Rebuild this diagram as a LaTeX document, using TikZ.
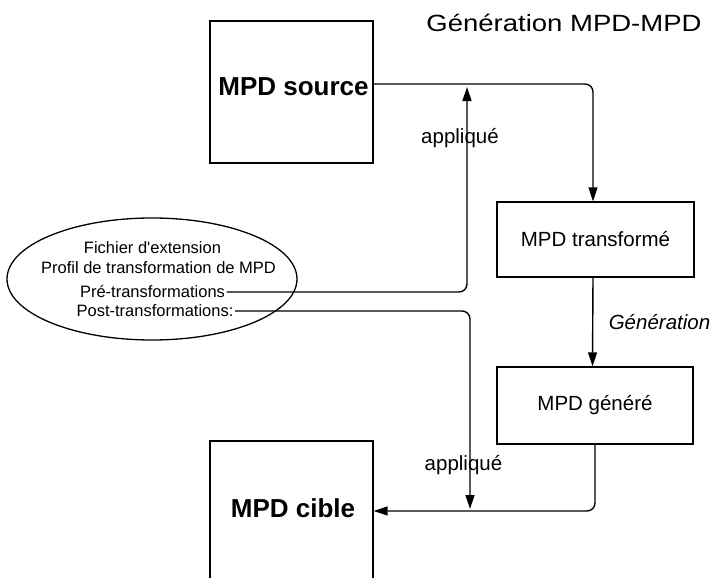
\documentclass[tikz,border=0pt]{standalone}
\usepackage{fontspec}
\setmainfont{Liberation Sans}[Ligatures=TeXOff]
\usepackage{graphicx}
\usetikzlibrary{arrows.meta,shapes.geometric}
\tikzset{
  boxnode/.style={draw, line width=1.3pt, inner sep=0pt, minimum width=#1},
  conn/.style={line width=1.4pt, rounded corners=8pt},
  arr/.style={-{Triangle[length=14pt,width=9pt]}},
  midfont/.style={font=\fontsize{20.5}{24}\selectfont},
  bigbold/.style={font=\fontsize{26}{30}\selectfont\bfseries},
  smallfont/.style={font=\fontsize{16.5}{19}\selectfont, inner sep=1.5pt},
}
\begin{document}
\begin{tikzpicture}[x=1pt,y=-1pt]
\clip (0,0) rectangle (715,578);
\fill[white] (0,0) rectangle (715,578);

\node[inner sep=0pt] (title) at (564,23) {\scalebox{1.17}[1]{\fontsize{23.5}{28}\selectfont Génération MPD-MPD}};

\node[boxnode=163pt, minimum height=142pt] (src) at (291.5,92) {};
\node[bigbold, inner sep=0pt] (srctext) at (293.5,87) {MPD source};

\node[boxnode=197pt, minimum height=75pt, midfont] (trans) at (595.5,239.5) {MPD transformé};
\node[boxnode=196pt, minimum height=77pt, midfont] (gen) at (595,405.5) {MPD généré};

\node[boxnode=163pt, minimum height=178pt] (cible) at (291.5,530) {};
\node[bigbold, inner sep=0pt] (cibletext) at (293,508) {MPD cible};

\node[draw, ellipse, line width=1.3pt, minimum width=290pt, minimum height=122pt] (ext) at (152,279) {};
\node[smallfont] (fich) at (152.5,248) {Fichier d'extension};
\node[smallfont] (prof) at (158.5,268) {Profil de transformation de MPD};
\node[smallfont] (pre) at (152.5,292) {Pré-transformations};
\node[smallfont] (post) at (155,311) {Post-transformations:};

\node[midfont, inner sep=0pt] (gentext) at (659.5,322) {\itshape Génération};
\node[midfont, inner sep=0pt] (app1) at (460,138) {appliqué};
\node[midfont, inner sep=0pt] (app2) at (463.5,465) {appliqué};

\coordinate (j1) at (467,84);
\coordinate (j2) at (470,511);

% source -> transformed
\draw[conn, arr] (src.east |- 0,84) -| ([xshift=-2.5pt]trans.north);
% transformed -> generated
\draw[conn, arr] ([xshift=-2.5pt]trans.south) -- ([xshift=-2.5pt]gen.north);
% generated -> cible
\draw[conn, arr] (gen.south) |- (cible.east |- j2);
% pre-transformations applied
\draw[conn, arr, shorten >=3pt] (pre.east) -| (j1);
% post-transformations applied
\draw[conn, arr, shorten >=2pt] (post.east) -| (j2);
\end{tikzpicture}
\end{document}
